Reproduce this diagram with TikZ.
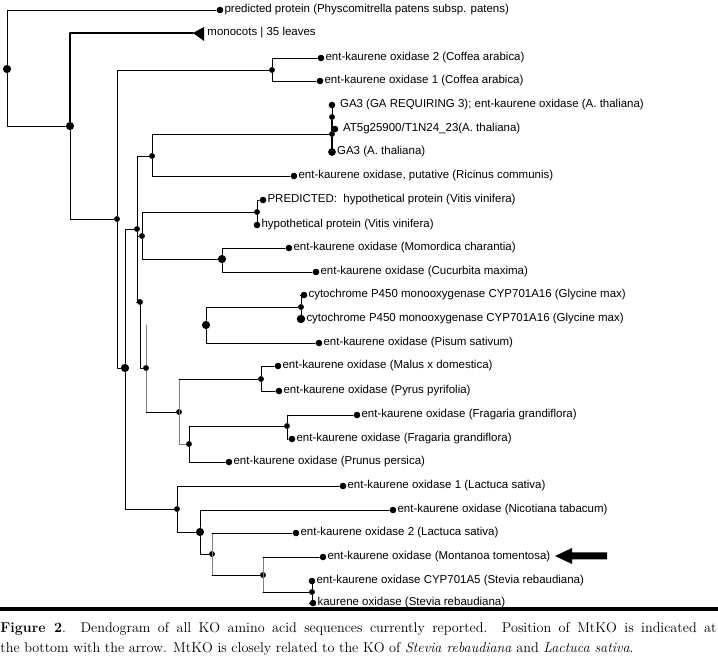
\documentclass[tikz,border=0pt]{standalone}
\usepackage{fontspec}
\newfontfamily\treefont{Liberation Sans}
\begin{document}
\begin{tikzpicture}[x=0.03cm, y=-0.03cm, line width=0.8pt, line cap=round, line join=round,
  font=\treefont\fontsize{9.8}{11}\selectfont, label distance=0.3pt,
  dot/.style={circle, fill, inner sep=0pt, minimum size=5pt},
  bigdot/.style={dot, minimum size=7pt},
  lab/.style={inner sep=0pt},
  leaf/.style={dot, minimum size=5.6pt, label={[lab]right:{#1}}},
  leafw/.style={dot, minimum size=5.6pt, label={[lab,xshift=3pt]right:{#1}}},
  gline/.style={gray}]
\useasboundingbox (0,0) rectangle (718,657);
% inner nodes
\node[bigdot] (R) at (7,69) {};
\node[bigdot] (A) at (70,126) {};
\node[dot] (B) at (117,219) {};
\node[dot] (cof) at (272,70) {};
\node[bigdot] (C) at (125,368) {};
\node[dot] (D) at (137,229) {};
\node[dot] (E) at (152,156) {};
\node[dot] (ath) at (332,134) {};
\node[dot] (athx) at (332,117) {};
\node[dot] (F) at (140,302) {};
\node[dot] (G) at (142,236) {};
\node[dot] (vit) at (257,212) {};
\node[bigdot] (cuc) at (222,259) {};
\node[bigdot] (gly) at (206,325) {};
\node[dot] (glyi) at (301,307) {};
\node[dot] (H) at (146,368) {};
\node[dot] (I) at (179,412) {};
\node[dot] (mal) at (261,379) {};
\node[dot] (K) at (189,444) {};
\node[dot] (frag) at (287,426) {};
\node[dot] (J) at (177,509) {};
\node[bigdot] (L) at (200,532) {};
\node[dot] (M) at (212,554) {};
\node[dot] (N) at (263,575) {};
\node[dot] (O) at (312,592) {};
\coordinate (mono) at (193,33);
% leaves
\node[leaf={predicted protein (Physcomitrella patens subsp. patens)}] (phys) at (220,10) {};
\node[leaf={ent-kaurene oxidase 2 (Coffea arabica)}] (cof2) at (321,58) {};
\node[leaf={ent-kaurene oxidase 1 (Coffea arabica)}] (cof1) at (320,81) {};
\node[leafw={GA3 (GA REQUIRING 3); ent-kaurene oxidase (A. thaliana)}] (ga3a) at (332,105) {};
\node[leafw={AT5g25900/T1N24\_23(A. thaliana)}] (at5) at (335,129) {};
\node[leaf={GA3 (A. thaliana)}, minimum size=6.6pt] (ga3b) at (332,152) {};
\node[leaf={ent-kaurene oxidase, putative (Ricinus communis)}] (ric) at (294,176) {};
\node[leaf={PREDICTED:~ hypothetical protein (Vitis vinifera)}] (vit1) at (263,200) {};
\node[leaf={hypothetical protein (Vitis vinifera)}] (vit2) at (257,225) {};
\node[leaf={ent-kaurene oxidase (Momordica charantia)}] (mom) at (289,248) {};
\node[leaf={ent-kaurene oxidase (Cucurbita maxima)}] (cucm) at (316,272) {};
\node[leaf={cytochrome P450 monooxygenase CYP701A16 (Glycine max)}] (gly1) at (304,295) {};
\node[leaf={cytochrome P450 monooxygenase CYP701A16 (Glycine max)}, minimum size=7.2pt] (gly2) at (301,319) {};
\node[leaf={ent-kaurene oxidase (Pisum sativum)}] (pis) at (319,343) {};
\node[leaf={ent-kaurene oxidase (Malus x domestica)}] (malus) at (278,366) {};
\node[leaf={ent-kaurene oxidase (Pyrus pyrifolia)}] (pyr) at (279,391) {};
\node[leaf={ent-kaurene oxidase (Fragaria grandiflora)}] (fra1) at (357,415) {};
\node[leaf={ent-kaurene oxidase (Fragaria grandiflora)}] (fra2) at (292,439) {};
\node[leaf={ent-kaurene oxidase (Prunus persica)}] (pru) at (229,462) {};
\node[leaf={ent-kaurene oxidase 1 (Lactuca sativa)}] (lac1) at (343,486) {};
\node[leaf={ent-kaurene oxidase (Nicotiana tabacum)}] (nic) at (393,510) {};
\node[leaf={ent-kaurene oxidase 2 (Lactuca sativa)}] (lac2) at (296,533) {};
\node[leaf={ent-kaurene oxidase (Montanoa tomentosa)}] (mon) at (323,557) {};
\node[leaf={ent-kaurene oxidase CYP701A5 (Stevia rebaudiana)}] (ste1) at (312,581) {};
\node[leaf={kaurene oxidase (Stevia rebaudiana)}] (ste2) at (313,603) {};
% branches
\draw (R) |- (phys); \draw (R) |- (A);
\draw[line width=1.7pt] (A) |- (mono);
\fill (mono) -- ++(11,-6) -- ++(0,14) -- cycle;
\node[lab, anchor=west] (monolab) at (207,33) {monocots | 35 leaves};
\draw (A) |- (B);
\draw (B) |- (cof); \draw (B) |- (C);
\draw (cof) |- (cof2); \draw (cof) |- (cof1);
\draw (C) |- (D); \draw (C) |- (J);
\draw (D) |- (E); \draw (D) |- (G); \draw (D) |- (F);
\draw (E) |- (ath); \draw (E) |- (ric);
\draw[line width=1.1pt] (ath) -- (athx); \draw[line width=1.1pt] (ath) |- (ga3b);
\draw (athx) |- (ga3a); \draw (athx) |- (at5);
\draw (G) |- (vit); \draw (G) |- (cuc);
\draw (vit) |- (vit1); \draw (vit) |- (vit2);
\draw (cuc) |- (mom); \draw (cuc) |- (cucm);
\draw (F) |- (H);
\draw[gline] (H) -- (H |- gly);
\draw[gline] (H) -- (H |- I); \draw (H |- I) -- (I);
\draw (gly) |- (glyi); \draw (gly) |- (pis);
\draw (glyi) |- (gly1); \draw (glyi) |- (gly2);
\draw[gline] (I |- mal) -- (I |- K); \draw (I |- mal) -- (mal); \draw[gline] (I |- K) -- (K);
\draw (mal) |- (malus); \draw (mal) |- (pyr);
\draw (K) |- (frag); \draw (K) |- (pru);
\draw (frag) |- (fra1); \draw (frag) |- (fra2);
\draw (J) |- (lac1); \draw (J) |- (L);
\draw (L) |- (nic); \draw (L) |- (M);
\draw[gline] (M |- lac2) -- (M |- N); \draw (M |- lac2) -- (lac2); \draw (M |- N) -- (N);
\draw[gline] (N |- mon) -- (N |- O); \draw (N |- mon) -- (mon); \draw (N |- O) -- (O);
\draw (O) |- (ste1); \draw (O) |- (ste2);
% arrow to MtKO
\fill (555,556) -- (572,548) -- (572,552.5) -- (607,552.5) -- (607,559.5) -- (572,559.5) -- (572,564) -- cycle;
% caption
\fill (0,607.5) rectangle (718,611);
\node[anchor=north west, inner sep=0pt, text width=21.48cm, align=justify,
  font=\rmfamily\fontsize{12.1}{17}\selectfont] (cap) at (0,622)
  {\textbf{Figure 2}. Dendogram of all KO amino acid sequences currently reported. Position of MtKO is indicated at\linebreak
   the bottom with the arrow. MtKO is closely related to the KO of \textit{Stevia rebaudiana} and \textit{Lactuca sativa}.};
\end{tikzpicture}
\end{document}
